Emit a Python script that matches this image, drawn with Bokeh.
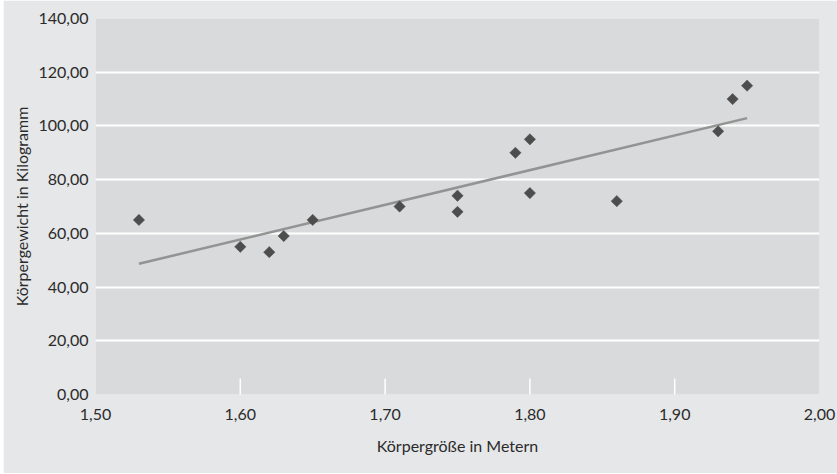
import numpy as np
from bokeh.plotting import figure
from bokeh.models import (ColumnDataSource, FixedTicker, CustomJSTickFormatter,
                          Range1d)
from bokeh.embed import file_html
from bokeh.resources import INLINE

# Body height (m) and weight (kg) of the sample
groesse = [1.53, 1.60, 1.62, 1.63, 1.65, 1.71, 1.75, 1.75,
           1.79, 1.80, 1.80, 1.86, 1.93, 1.94, 1.95]
gewicht = [65, 55, 53, 59, 65, 70, 74, 68,
           90, 95, 75, 72, 98, 110, 115]

x_ticks = [1.50, 1.60, 1.70, 1.80, 1.90, 2.00]
x_inner_ticks = [1.60, 1.70, 1.80, 1.90]
y_ticks = [0, 20, 40, 60, 80, 100, 120, 140]
y_grid = [20, 40, 60, 80, 100, 120]

FONT = "Lato"
TEXT = "#2b2b2b"
OUTER_BG = "#e6e7e8"
PLOT_BG = "#d9dadb"

# least-squares trend line over the measured height span
slope, intercept = np.polyfit(groesse, gewicht, 1)
trend_x = [min(groesse), max(groesse)]
trend_y = [slope * v + intercept for v in trend_x]

p = figure(width=834, height=473, output_backend="svg", toolbar_location=None,
           x_range=Range1d(1.5, 2.0), y_range=Range1d(0, 140),
           min_border_left=92, min_border_right=18,
           min_border_top=18, min_border_bottom=79)
p.margin = (0, 0, 1, 3)
p.background_fill_color = PLOT_BG
p.border_fill_color = OUTER_BG
p.outline_line_color = None

fmt = CustomJSTickFormatter(code="return tick.toFixed(2).replace('.', ',');")

# x axis
p.xaxis.ticker = FixedTicker(ticks=x_ticks)
p.xaxis.major_label_standoff = 14
p.xaxis.axis_label = "Körpergröße in Metern"
p.xaxis.axis_label_standoff = 13

# y axis
p.yaxis.ticker = FixedTicker(ticks=y_ticks)
p.yaxis.major_label_standoff = 7
p.yaxis.axis_label = "Körpergewicht in Kilogramm"
p.yaxis.axis_label_standoff = 4

for ax in (p.xaxis, p.yaxis):
    ax.formatter = fmt
    ax.axis_line_color = None
    ax.major_tick_line_color = None
    ax.minor_tick_line_color = None
    ax.major_tick_out = 0
    ax.major_tick_in = 0
    ax.minor_tick_out = 0
    ax.minor_tick_in = 0
    ax.major_label_text_font = FONT
    ax.major_label_text_font_size = "16px"
    ax.major_label_text_color = TEXT
    ax.axis_label_text_font = FONT
    ax.axis_label_text_font_size = "16px"
    ax.axis_label_text_font_style = "normal"
    ax.axis_label_text_color = TEXT

p.xgrid.grid_line_color = None
p.ygrid.ticker = FixedTicker(ticks=y_grid)
p.ygrid.grid_line_color = "white"
p.ygrid.grid_line_width = 2

# short white tick marks pointing up into the plot from the x axis
p.scatter(x=x_inner_ticks, y=[0] * len(x_inner_ticks), marker="dash",
          angle=np.pi / 2, size=32, line_color="white", line_width=1.5)

p.line(trend_x, trend_y, line_color="#939393", line_width=2.5)

src = ColumnDataSource(dict(x=groesse, y=gewicht))
p.scatter("x", "y", source=src, marker="square", angle=np.pi / 4, size=8,
          fill_color="#4d4d4d", line_color="#4d4d4d", line_width=0.5)

open("out.html", "w").write(file_html(p, INLINE))
